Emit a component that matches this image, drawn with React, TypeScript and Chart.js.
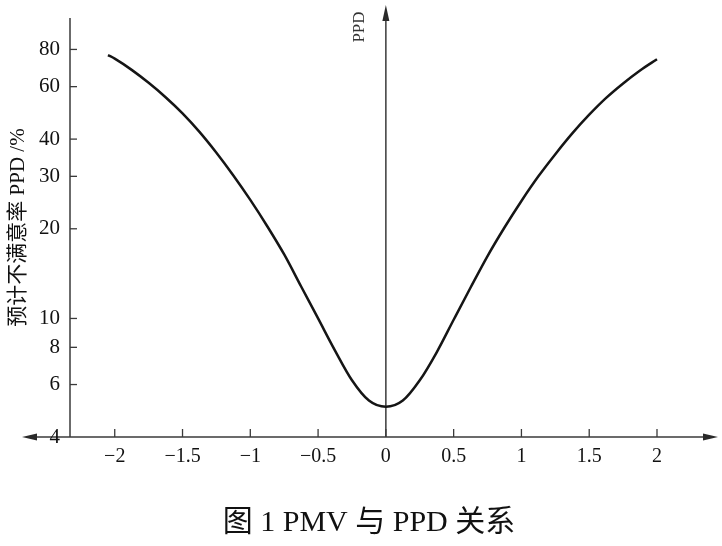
import { useEffect, useRef } from 'react';
import { Chart, registerables } from 'chart.js';

Chart.register(...registerables);

// PMV (x) values
const pmv = [
  -2.05, -2, -1.875, -1.75, -1.625, -1.5, -1.375, -1.25, -1.125, -1, -0.875, -0.75, -0.625, -0.5, -0.375, -0.25, -0.125,
  0, 0.125, 0.25, 0.375, 0.5, 0.625, 0.75, 0.875, 1, 1.125, 1.25, 1.375, 1.5, 1.625, 1.75, 1.875, 2,
];
// PPD (%) values
const ppd = [
  76.6, 74.5, 68.3, 61.8, 55.3, 48.8, 42.3, 36, 30.2, 25, 20.4, 16.4, 12.8, 10, 7.8, 6.2, 5.3,
  5.05, 5.3, 6.2, 7.7, 9.9, 12.7, 16.2, 20.2, 24.8, 30, 35.6, 41.8, 48.3, 55, 61.5, 68, 74.2,
];

const xTicks = [-2, -1.5, -1, -0.5, 0, 0.5, 1, 1.5, 2];
const xTickLabels = ['−2', '−1.5', '−1', '−0.5', '0', '0.5', '1', '1.5', '2'];
const yTicks = [4, 6, 8, 10, 20, 30, 40, 60, 80];
const yTickLabels = ['4', '6', '8', '10', '20', '30', '40', '60', '80'];

const yTitle = '预计不满意率 PPD /%';
const centerAxisLabel = 'PPD';
const caption = '图 1 PMV 与 PPD 关系';

const SERIF = "'Liberation Serif', 'Noto Sans CJK SC', serif";

const axesPlugin = {
  id: 'axesPlugin',
  beforeDraw(chart: any) {
    const { ctx, chartArea, scales } = chart;
    const xs = scales.x;
    const ys = scales.y;
    const { left, right, top, bottom } = chartArea;
    ctx.save();
    ctx.strokeStyle = '#3a3a3a';
    ctx.fillStyle = '#2a2a2a';
    ctx.lineWidth = 1.5;

    // left vertical axis
    ctx.beginPath();
    ctx.moveTo(left, top);
    ctx.lineTo(left, bottom);
    ctx.stroke();

    // horizontal axis with arrows both ends
    ctx.beginPath();
    ctx.moveTo(30, bottom);
    ctx.lineTo(right - 8, bottom);
    ctx.stroke();
    ctx.beginPath();
    ctx.moveTo(right, bottom);
    ctx.lineTo(right - 15, bottom - 3.5);
    ctx.lineTo(right - 15, bottom + 3.5);
    ctx.closePath();
    ctx.fill();
    ctx.beginPath();
    ctx.moveTo(22, bottom);
    ctx.lineTo(37, bottom - 3.5);
    ctx.lineTo(37, bottom + 3.5);
    ctx.closePath();
    ctx.fill();

    // y ticks (inward)
    ctx.lineWidth = 1.3;
    yTicks.forEach((v) => {
      if (v === ys.min) return;
      const y = ys.getPixelForValue(v);
      ctx.beginPath();
      ctx.moveTo(left, y);
      ctx.lineTo(left + 7, y);
      ctx.stroke();
    });
    // x ticks (inward)
    xTicks.forEach((v) => {
      const x = xs.getPixelForValue(v);
      ctx.beginPath();
      ctx.moveTo(x, bottom);
      ctx.lineTo(x, bottom - 8);
      ctx.stroke();
    });

    // central PPD axis at PMV = 0
    const x0 = xs.getPixelForValue(0);
    ctx.lineWidth = 1.5;
    ctx.beginPath();
    ctx.moveTo(x0, bottom);
    ctx.lineTo(x0, 14);
    ctx.stroke();
    ctx.beginPath();
    ctx.moveTo(x0, 5);
    ctx.lineTo(x0 - 3.5, 21);
    ctx.lineTo(x0 + 3.5, 21);
    ctx.closePath();
    ctx.fill();

    // PPD label
    ctx.translate(x0 - 26, 27);
    ctx.rotate(-Math.PI / 2);
    ctx.font = `17px ${SERIF}`;
    ctx.textAlign = 'center';
    ctx.textBaseline = 'middle';
    ctx.fillStyle = '#333';
    ctx.fillText(centerAxisLabel, 0, 0);
    ctx.restore();
  },
};

export default function App() {
  const ref = useRef<HTMLCanvasElement | null>(null);

  useEffect(() => {
    document.body.style.margin = '0';
    if (!ref.current) return;
    const chart = new Chart(ref.current, {
      type: 'line',
      data: {
        datasets: [
          {
            data: pmv.map((x, i) => ({ x, y: ppd[i] })),
            borderColor: '#151515',
            borderWidth: 2.5,
            pointRadius: 0,
            fill: false,
            cubicInterpolationMode: 'monotone',
          },
        ],
      },
      options: {
        animation: false,
        responsive: false,
        devicePixelRatio: 1,
        layout: { padding: { top: 18, right: 4, left: 20, bottom: 0 } },
        plugins: {
          legend: { display: false },
          tooltip: { enabled: false },
          title: {
            display: true,
            position: 'bottom',
            text: caption,
            color: '#111',
            font: { family: SERIF, size: 30, weight: 'normal' },
            padding: { top: 0, bottom: 5 },
          },
        },
        scales: {
          x: {
            type: 'linear',
            min: -2.33,
            max: 2.45,
            afterBuildTicks: (s: any) => {
              s.ticks = xTicks.map((v) => ({ value: v }));
            },
            afterFit: (s: any) => {
              s.height = 546 - (30 * 1.2 + 5) - 437;
              s.paddingLeft = 0;
              s.paddingRight = 0;
            },
            ticks: {
              autoSkip: false,
              maxRotation: 0,
              color: '#111',
              padding: 8,
              font: { family: SERIF, size: 20 },
              callback: (v: any) => {
                const i = xTicks.indexOf(Number(v));
                return i >= 0 ? xTickLabels[i] : '';
              },
            },
            grid: { display: false, drawTicks: false },
            border: { display: false },
          },
          y: {
            type: 'logarithmic',
            min: 4,
            max: 102,
            afterBuildTicks: (s: any) => {
              s.ticks = yTicks.map((v) => ({ value: v }));
            },
            afterFit: (s: any) => {
              s.width = 50;
              s.paddingTop = 0;
              s.paddingBottom = 0;
            },
            ticks: {
              autoSkip: false,
              color: '#111',
              padding: 10,
              font: { family: SERIF, size: 21 },
              callback: (v: any) => {
                const i = yTicks.indexOf(Number(v));
                return i >= 0 ? yTickLabels[i] : '';
              },
            },
            title: {
              display: true,
              text: yTitle,
              color: '#111',
              font: { family: SERIF, size: 21 },
              padding: { top: -14.6, bottom: 0 },
            },
            grid: { display: false, drawTicks: false },
            border: { display: false },
          },
        },
      },
      plugins: [axesPlugin],
    } as any);
    return () => chart.destroy();
  }, []);

  return (
    <div style={{ position: 'fixed', left: 0, top: 0, width: 722, height: 546, background: '#fff' }}>
      <canvas ref={ref} width={722} height={546} style={{ display: 'block' }} />
    </div>
  );
}
